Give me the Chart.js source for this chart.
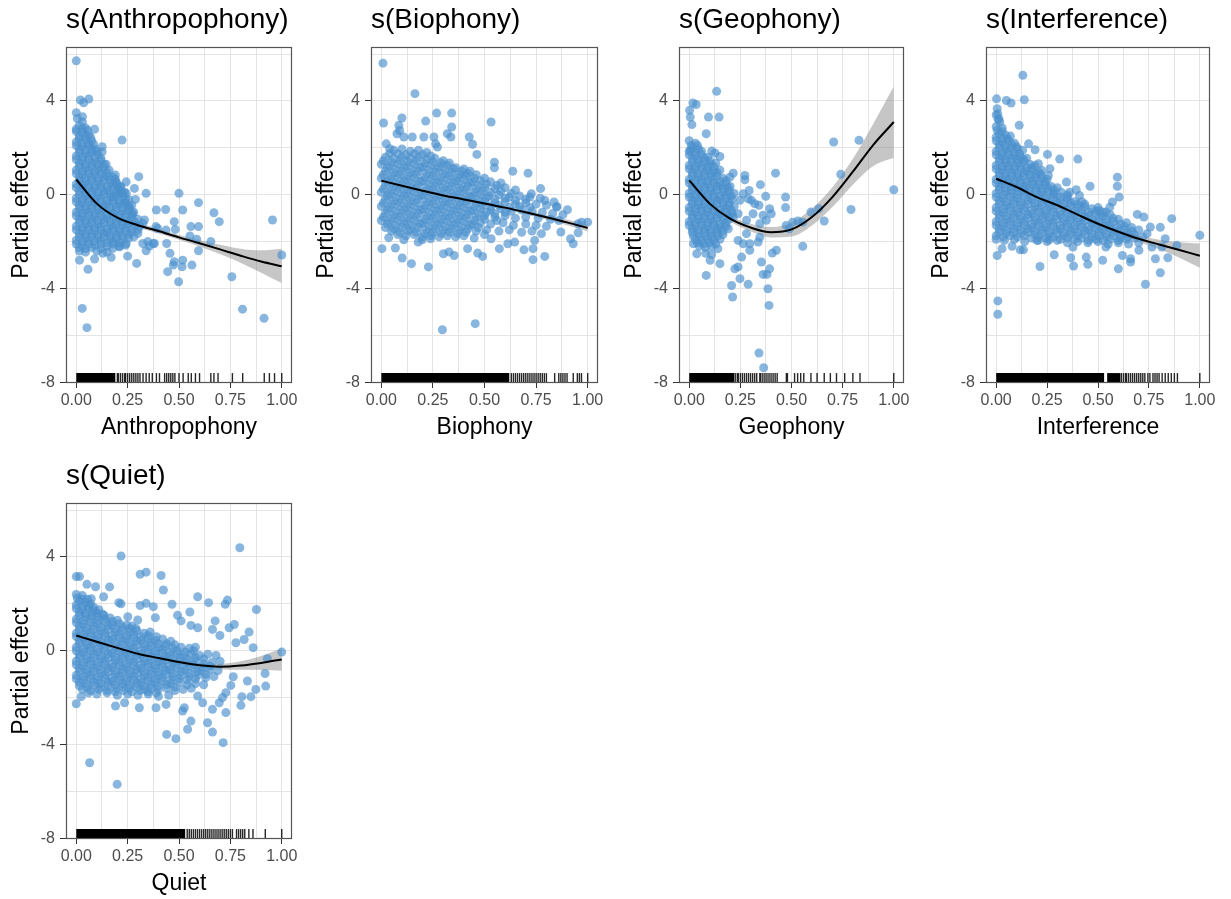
<!DOCTYPE html>
<html>
<head>
<meta charset="utf-8">
<script src="https://cdn.jsdelivr.net/npm/chart.js@4.4.1/dist/chart.umd.min.js"></script>
<style>
  body { margin: 0; background: #fff; overflow: hidden; width: 1231px; height: 899px; position: relative; }
  canvas { position: absolute; }
</style>
</head>
<body>
<canvas id="cAnthro" width="300" height="450" style="left:0px;top:0px"></canvas>
<canvas id="cBio" width="301" height="450" style="left:305px;top:0px"></canvas>
<canvas id="cGeo" width="299" height="450" style="left:613px;top:0px"></canvas>
<canvas id="cInterf" width="298" height="450" style="left:920px;top:0px"></canvas>
<canvas id="cQuiet" width="300" height="450" style="left:0px;top:456px"></canvas>
<script>
// ==================== DATOS ====================
// x positions where the smooth + band were read
const xFit = [0, 0.1, 0.2, 0.3, 0.4, 0.5, 0.6, 0.7, 0.8, 0.9, 1.0];

// --- Anthropophony ---
const anthroFit = [0.65, -0.38, -0.98, -1.3, -1.55, -1.82, -2.07, -2.33, -2.6, -2.85, -3.05];
const anthroHi  = [0.8, -0.28, -0.88, -1.2, -1.45, -1.72, -1.93, -2.13, -2.3, -2.37, -2.3];
const anthroLo  = [0.5, -0.48, -1.08, -1.4, -1.65, -1.92, -2.21, -2.53, -2.9, -3.33, -3.77];
const anthroPts = [
  [0.005,3.25],[0.03,3.1],[0.015,2.95],[0.045,2.85],[0,2.7],[0.03,2.65],[0.06,2.55],
  [0.015,2.4],[0.045,2.35],[0.075,2.3],[0,2.1],[0.03,2.05],[0.06,2.1],[0.09,1.95],
  [0.015,1.8],[0.045,1.75],[0.075,1.8],[0.105,1.7],
  [0,1.5],[0.03,1.45],[0.06,1.5],[0.09,1.4],[0.12,1.45],[0.145,1.3],
  [0.015,1.2],[0.045,1.15],[0.075,1.2],[0.105,1.1],[0.135,1.15],[0.16,1.05],
  [0,0.9],[0.03,0.85],[0.06,0.9],[0.09,0.85],[0.12,0.9],[0.15,0.8],[0.18,0.75],
  [0.015,0.6],[0.045,0.55],[0.075,0.6],[0.105,0.55],[0.135,0.6],[0.165,0.5],[0.195,0.55],[0.215,0.35],
  [0,0.3],[0.03,0.25],[0.06,0.3],[0.09,0.25],[0.12,0.3],[0.15,0.2],[0.18,0.25],[0.21,0.2],[0.235,0.1],
  [0.015,0],[0.045,-0.05],[0.075,0],[0.105,-0.05],[0.135,0],[0.165,-0.1],[0.195,-0.05],[0.225,-0.1],[0.255,-0.2],
  [0,-0.3],[0.03,-0.35],[0.06,-0.3],[0.09,-0.35],[0.12,-0.3],[0.15,-0.4],[0.18,-0.35],[0.21,-0.4],[0.24,-0.35],[0.27,-0.45],
  [0.015,-0.6],[0.045,-0.65],[0.075,-0.6],[0.105,-0.65],[0.135,-0.6],[0.165,-0.7],[0.195,-0.65],[0.225,-0.7],[0.255,-0.65],[0.28,-0.75],
  [0,-0.9],[0.03,-0.95],[0.06,-0.9],[0.09,-0.95],[0.12,-0.9],[0.15,-1.0],[0.18,-0.95],[0.21,-1.0],[0.24,-0.95],[0.27,-1.0],[0.3,-1.05],
  [0.015,-1.2],[0.045,-1.25],[0.075,-1.2],[0.105,-1.25],[0.135,-1.2],[0.165,-1.3],[0.195,-1.25],[0.225,-1.3],[0.255,-1.25],[0.285,-1.3],[0.31,-1.35],
  [0,-1.5],[0.03,-1.55],[0.06,-1.5],[0.09,-1.55],[0.12,-1.5],[0.15,-1.6],[0.18,-1.55],[0.21,-1.6],[0.24,-1.55],[0.27,-1.6],[0.3,-1.5],
  [0.015,-1.8],[0.045,-1.85],[0.075,-1.8],[0.105,-1.85],[0.135,-1.8],[0.165,-1.9],[0.195,-1.85],[0.225,-1.9],[0.255,-1.85],[0.28,-1.8],
  [0,-2.1],[0.03,-2.15],[0.06,-2.1],[0.09,-2.15],[0.12,-2.1],[0.15,-2.2],[0.18,-2.1],[0.21,-2.2],[0.24,-2.15],
  [0.015,-2.4],[0.045,-2.45],[0.1,-2.4],[0.15,-2.45],
  [0,5.71],[0.02,4.04],[0.036,3.92],[0.061,4.08],[0,3.5],[0.03,3.33],[0.089,2.79],[0.223,2.33],[0.126,2.05],[0.126,1.83],
  [0.19,0.84],[0.304,0.77],[0.243,0.55],[0.283,0.27],[0.34,0.06],[0.288,-0.2],[0.5,0.06],[0.595,-0.34],[0.39,-0.65],[0.435,-0.63],
  [0.518,-0.65],[0.67,-0.77],[0.696,-1.15],[0.955,-1.08],[0.477,-1.15],[0.388,-1.36],[0.437,-1.51],[0.482,-1.48],[0.558,-1.36],[0.595,-1.36],
  [0.553,-1.76],[0.586,-1.9],[0.655,-2.0],[0.44,-2.08],[0.356,-2.19],[0.375,-2.08],[0.595,-2.39],[0.456,-2.5],[0.477,-2.86],[0.518,-2.79],
  [0.472,-3.0],[0.515,-3.07],[0.563,-3.0],[0.445,-3.28],[0.498,-3.71],[0.757,-3.5],[0.809,-4.88],[0.914,-5.27],[1.0,-2.57],[0.029,-4.85],
  [0.052,-5.67],[0.016,-2.79],[0.057,-3.18],[0.089,-2.74],[0.17,-2.67],[0.294,-2.93],[0.25,-2.62],[0.34,-2.39],[0.348,-2.0],[0.38,-2.08],
  [0.324,-2.08],[0.3,-1.65],[0.243,-2.08],[0.21,-2.22],[0.13,-2.5],[0.178,-2.29],[0.332,-1.08],[0.324,-1.22],[0.396,-1.44],[0.259,-0.51],
  [0.275,-0.8],[0.235,-0.37],[0.21,0.06],[0.243,0.06],[0.218,0.34],[0.194,0.48],[0.178,-0.09]
];
// dense core, read between the rows above
const anthroCore = [
  [0,2.8],[0.03,2.8],[0.055,2.75],[0.015,2.5],[0.045,2.5],[0.07,2.45],
  [0,2.25],[0.03,2.2],[0.06,2.2],[0.085,2.15],[0.015,1.95],[0.045,1.9],[0.075,1.95],[0.1,1.85],
  [0,1.65],[0.03,1.6],[0.06,1.65],[0.09,1.6],[0.12,1.55],[0.015,1.35],[0.045,1.3],[0.075,1.35],[0.105,1.3],[0.135,1.3],
  [0,1.05],[0.03,1.0],[0.06,1.05],[0.09,1.0],[0.12,1.05],[0.15,0.95],
  [0.015,0.75],[0.045,0.7],[0.075,0.75],[0.105,0.7],[0.135,0.75],[0.165,0.65],[0.19,0.65],
  [0,0.45],[0.03,0.4],[0.06,0.45],[0.09,0.4],[0.12,0.45],[0.15,0.35],[0.18,0.4],[0.205,0.3],
  [0.015,0.15],[0.045,0.1],[0.075,0.15],[0.105,0.1],[0.135,0.15],[0.165,0.05],[0.195,0.1],[0.225,0.05],
  [0,-0.15],[0.03,-0.2],[0.06,-0.15],[0.09,-0.2],[0.12,-0.15],[0.15,-0.25],[0.18,-0.2],[0.21,-0.25],[0.24,-0.2],
  [0.015,-0.45],[0.045,-0.5],[0.075,-0.45],[0.105,-0.5],[0.135,-0.45],[0.165,-0.55],[0.195,-0.5],[0.225,-0.55],[0.255,-0.5],
  [0,-0.75],[0.03,-0.8],[0.06,-0.75],[0.09,-0.8],[0.12,-0.75],[0.15,-0.85],[0.18,-0.8],[0.21,-0.85],[0.24,-0.8],[0.27,-0.85],
  [0.015,-1.05],[0.045,-1.1],[0.075,-1.05],[0.105,-1.1],[0.135,-1.05],[0.165,-1.15],[0.195,-1.1],[0.225,-1.15],[0.255,-1.1],[0.285,-1.15],
  [0,-1.35],[0.03,-1.4],[0.06,-1.35],[0.09,-1.4],[0.12,-1.35],[0.15,-1.45],[0.18,-1.4],[0.21,-1.45],[0.24,-1.4],[0.27,-1.45],
  [0.015,-1.65],[0.045,-1.7],[0.075,-1.65],[0.105,-1.7],[0.135,-1.65],[0.165,-1.75],[0.195,-1.7],[0.225,-1.75],[0.255,-1.7],
  [0,-1.95],[0.03,-2.0],[0.06,-1.95],[0.09,-2.0],[0.12,-1.95],[0.15,-2.05],[0.18,-2.0],[0.21,-2.05],
  [0.015,-2.25],[0.045,-2.3],[0.075,-2.25],[0.12,-2.3]
];
const anthroRugBands = [[0, 0.19]];
const anthroRug = [0.2,0.205,0.215,0.225,0.235,0.24,0.25,0.26,0.27,0.28,0.29,0.3,0.31,0.325,0.34,0.355,0.37,0.39,0.405,
  0.43,0.44,0.45,0.46,0.47,0.48,0.5,0.52,0.545,0.56,0.58,0.6,0.655,0.67,0.69,0.76,0.81,0.915,0.94,0.965,1.0];

// --- Biophony ---
const bioFit = [0.6, 0.38, 0.17, -0.03, -0.2, -0.37, -0.55, -0.75, -0.96, -1.18, -1.42];
const bioHi  = [0.7, 0.45, 0.23, 0.03, -0.14, -0.31, -0.48, -0.67, -0.86, -1.06, -1.27];
const bioLo  = [0.5, 0.31, 0.11, -0.09, -0.26, -0.43, -0.62, -0.83, -1.06, -1.3, -1.57];
const bioPts = [
  [0.06,1.9],[0.1,1.95],[0.14,1.85],[0.18,1.9],[0.22,1.8],
  [0.02,1.6],[0.06,1.55],[0.1,1.6],[0.14,1.55],[0.18,1.6],[0.22,1.5],[0.26,1.55],[0.3,1.45],
  [0,1.3],[0.04,1.25],[0.08,1.3],[0.12,1.25],[0.16,1.3],[0.2,1.2],[0.24,1.25],[0.28,1.2],[0.32,1.25],[0.36,1.15],[0.4,1.1],
  [0.02,1.0],[0.06,0.95],[0.1,1.0],[0.14,0.95],[0.18,1.0],[0.22,0.9],[0.26,0.95],[0.3,0.9],[0.34,0.95],[0.38,0.85],[0.42,0.9],[0.46,0.85],
  [0,0.7],[0.04,0.65],[0.08,0.7],[0.12,0.65],[0.16,0.7],[0.2,0.6],[0.24,0.65],[0.28,0.6],[0.32,0.65],[0.36,0.6],[0.4,0.65],[0.44,0.55],[0.48,0.6],[0.53,0.55],[0.58,0.5],
  [0.02,0.4],[0.06,0.35],[0.1,0.4],[0.14,0.35],[0.18,0.4],[0.22,0.3],[0.26,0.35],[0.3,0.3],[0.34,0.35],[0.38,0.3],[0.42,0.35],[0.46,0.25],[0.5,0.3],[0.55,0.25],[0.6,0.3],[0.65,0.2],
  [0,0.1],[0.04,0.05],[0.08,0.1],[0.12,0.05],[0.16,0.1],[0.2,0],[0.24,0.05],[0.28,0],[0.32,0.05],[0.36,0],[0.4,0.05],[0.44,-0.05],[0.48,0],[0.52,-0.05],[0.57,0],[0.62,-0.1],[0.67,-0.05],[0.72,-0.1],[0.77,-0.15],
  [0.02,-0.2],[0.06,-0.25],[0.1,-0.2],[0.14,-0.25],[0.18,-0.2],[0.22,-0.3],[0.26,-0.25],[0.3,-0.3],[0.34,-0.25],[0.38,-0.3],[0.42,-0.25],[0.46,-0.35],[0.5,-0.3],[0.55,-0.35],[0.6,-0.3],[0.65,-0.4],[0.7,-0.35],[0.75,-0.4],[0.8,-0.45],[0.85,-0.5],
  [0,-0.5],[0.04,-0.55],[0.08,-0.5],[0.12,-0.55],[0.16,-0.5],[0.2,-0.6],[0.24,-0.55],[0.28,-0.6],[0.32,-0.55],[0.36,-0.6],[0.4,-0.55],[0.44,-0.65],[0.48,-0.6],[0.53,-0.65],[0.58,-0.6],[0.63,-0.7],[0.68,-0.65],[0.73,-0.7],[0.78,-0.75],[0.83,-0.8],[0.88,-0.85],
  [0.02,-0.8],[0.06,-0.85],[0.1,-0.8],[0.14,-0.85],[0.18,-0.8],[0.22,-0.9],[0.26,-0.85],[0.3,-0.9],[0.34,-0.85],[0.38,-0.9],[0.42,-0.85],[0.46,-0.95],[0.5,-0.9],[0.55,-0.95],[0.6,-0.9],[0.65,-1.0],[0.7,-0.95],[0.76,-1.0],[0.82,-1.05],[0.86,-1.1],
  [0,-1.1],[0.04,-1.15],[0.08,-1.1],[0.12,-1.15],[0.16,-1.1],[0.2,-1.2],[0.24,-1.15],[0.28,-1.2],[0.32,-1.15],[0.36,-1.2],[0.4,-1.15],[0.44,-1.25],[0.48,-1.2],[0.53,-1.25],[0.59,-1.2],[0.64,-1.3],[0.7,-1.25],[0.75,-1.3],[0.8,-1.35],
  [0.02,-1.4],[0.06,-1.45],[0.1,-1.4],[0.14,-1.45],[0.18,-1.4],[0.22,-1.5],[0.26,-1.45],[0.3,-1.5],[0.34,-1.45],[0.38,-1.5],[0.42,-1.45],[0.46,-1.55],[0.51,-1.5],[0.57,-1.55],[0.62,-1.5],[0.68,-1.6],[0.73,-1.55],
  [0.08,-1.7],[0.12,-1.75],[0.16,-1.7],[0.2,-1.8],[0.24,-1.75],[0.28,-1.8],[0.32,-1.75],[0.36,-1.8],[0.4,-1.75],[0.45,-1.85],[0.5,-1.7],
  [0.008,5.61],[0.163,4.31],[0.011,3.06],[0.1,3.27],[0.268,3.48],[0.341,3.48],[0.341,2.89],[0.215,3.14],[0.532,3.1],
  [0.085,2.96],[0.089,2.74],[0.076,2.6],[0.109,2.46],[0.15,2.46],[0.206,2.46],[0.255,2.46],[0.32,2.6],[0.337,2.46],
  [0.426,2.46],[0.442,2.15],[0.463,1.72],[0.272,2.03],[0.263,2.17],[0.024,2.17],[0.041,1.96],[0.548,1.39],[0.548,1.15],
  [0.637,1.0],[0.711,0.92],[0.772,0.26],[0.727,0.04],[0.792,-0.24],[0.837,-0.31],[0.902,-0.64],[0.85,-0.53],
  [0.971,-1.17],[1.0,-1.17],[0.954,-1.24],[0.87,-1.59],[0.917,-1.88],[0.954,-1.62],[0.93,-2.09],
  [0.776,-1.66],[0.743,-1.95],[0.735,-2.3],[0.792,-2.63],[0.735,-2.77],[0.691,-2.35],[0.646,-2.02],[0.572,-2.3],[0.613,-2.09],[0.532,-1.88],
  [0.491,-2.63],[0.467,-2.49],[0.418,-2.3],[0.353,-2.59],[0.328,-2.44],[0.301,-2.52],[0.296,-5.76],[0.455,-5.5],
  [0.003,-2.3],[0.068,-2.27],[0.101,-2.7],[0.146,-2.94],[0.228,-3.08],[0.179,-2.02],[0.109,-1.92],[0.036,-1.83],[0.239,-1.88],[0.198,-1.92]
];
const bioCore = [
  [0.04,1.75],[0.08,1.75],[0.12,1.7],[0.16,1.75],[0.2,1.7],[0.24,1.65],
  [0.01,1.45],[0.05,1.4],[0.09,1.45],[0.13,1.4],[0.17,1.45],[0.21,1.35],[0.25,1.4],[0.29,1.35],[0.33,1.35],
  [0.03,1.15],[0.07,1.1],[0.11,1.15],[0.15,1.1],[0.19,1.15],[0.23,1.05],[0.27,1.1],[0.31,1.05],[0.35,1.1],[0.39,1.0],[0.43,1.0],
  [0.01,0.85],[0.05,0.8],[0.09,0.85],[0.13,0.8],[0.17,0.85],[0.21,0.75],[0.25,0.8],[0.29,0.75],[0.33,0.8],[0.37,0.75],[0.41,0.8],[0.45,0.7],[0.5,0.7],
  [0.03,0.55],[0.07,0.5],[0.11,0.55],[0.15,0.5],[0.19,0.55],[0.23,0.45],[0.27,0.5],[0.31,0.45],[0.35,0.5],[0.39,0.45],[0.43,0.5],[0.47,0.4],[0.51,0.45],[0.56,0.4],
  [0.01,0.25],[0.05,0.2],[0.09,0.25],[0.13,0.2],[0.17,0.25],[0.21,0.15],[0.25,0.2],[0.29,0.15],[0.33,0.2],[0.37,0.15],[0.41,0.2],[0.45,0.1],[0.49,0.15],[0.53,0.1],[0.58,0.15],[0.63,0.05],
  [0.03,-0.05],[0.07,-0.1],[0.11,-0.05],[0.15,-0.1],[0.19,-0.05],[0.23,-0.15],[0.27,-0.1],[0.31,-0.15],[0.35,-0.1],[0.39,-0.15],[0.43,-0.1],[0.47,-0.2],[0.51,-0.15],[0.55,-0.2],[0.6,-0.15],[0.65,-0.25],[0.7,-0.2],
  [0.01,-0.35],[0.05,-0.4],[0.09,-0.35],[0.13,-0.4],[0.17,-0.35],[0.21,-0.45],[0.25,-0.4],[0.29,-0.45],[0.33,-0.4],[0.37,-0.45],[0.41,-0.4],[0.45,-0.5],[0.49,-0.45],[0.53,-0.5],[0.57,-0.45],[0.62,-0.55],[0.67,-0.5],[0.72,-0.55],
  [0.03,-0.65],[0.07,-0.7],[0.11,-0.65],[0.15,-0.7],[0.19,-0.65],[0.23,-0.75],[0.27,-0.7],[0.31,-0.75],[0.35,-0.7],[0.39,-0.75],[0.43,-0.7],[0.47,-0.8],[0.51,-0.75],[0.55,-0.8],[0.6,-0.75],
  [0.01,-0.95],[0.05,-1.0],[0.09,-0.95],[0.13,-1.0],[0.17,-0.95],[0.21,-1.05],[0.25,-1.0],[0.29,-1.05],[0.33,-1.0],[0.37,-1.05],[0.41,-1.0],[0.45,-1.1],[0.5,-1.05],[0.56,-1.1],
  [0.03,-1.25],[0.07,-1.3],[0.11,-1.25],[0.15,-1.3],[0.19,-1.25],[0.23,-1.35],[0.27,-1.3],[0.31,-1.35],[0.35,-1.3],[0.39,-1.35],[0.43,-1.3],[0.47,-1.4],
  [0.05,-1.55],[0.09,-1.6],[0.13,-1.55],[0.17,-1.6],[0.21,-1.65],[0.25,-1.6],[0.29,-1.65],[0.33,-1.6],[0.37,-1.65],[0.41,-1.6]
];
const bioRugBands = [[0, 0.62]];
const bioRug = [0.63,0.64,0.65,0.66,0.67,0.68,0.69,0.7,0.71,0.72,0.73,0.74,0.75,0.76,0.77,0.78,0.79,0.8,
  0.84,0.86,0.87,0.88,0.89,0.9,0.93,0.95,0.96,0.97,1.0];

// --- Geophony ---
const geoFit = [0.61, -0.38, -1.02, -1.4, -1.6, -1.48, -0.95, -0.1, 0.98, 2.13, 3.1];
const geoHi  = [0.76, -0.28, -0.9, -1.24, -1.38, -1.18, -0.59, 0.32, 1.53, 3.03, 4.62];
const geoLo  = [0.46, -0.48, -1.14, -1.56, -1.82, -1.78, -1.31, -0.52, 0.43, 1.23, 1.58];
const geoPts = [
  [0,2.3],[0.03,2.2],[0.015,2.0],[0.045,1.95],[0.005,1.9],
  [0,1.7],[0.03,1.65],[0.06,1.7],[0.09,1.6],
  [0.015,1.4],[0.045,1.35],[0.075,1.4],[0.105,1.3],[0.13,1.35],
  [0,1.1],[0.03,1.05],[0.06,1.1],[0.09,1.05],[0.12,1.0],[0.15,1.05],
  [0.015,0.8],[0.045,0.75],[0.075,0.8],[0.105,0.75],[0.135,0.8],[0.165,0.7],
  [0,0.5],[0.03,0.45],[0.06,0.5],[0.09,0.45],[0.12,0.5],[0.15,0.4],[0.18,0.45],[0.2,0.35],
  [0.015,0.2],[0.045,0.15],[0.075,0.2],[0.105,0.15],[0.135,0.2],[0.165,0.1],[0.195,0.15],[0.22,0.05],
  [0,-0.1],[0.03,-0.15],[0.06,-0.1],[0.09,-0.15],[0.12,-0.1],[0.15,-0.2],[0.18,-0.15],[0.21,-0.2],
  [0.015,-0.4],[0.045,-0.45],[0.075,-0.4],[0.105,-0.45],[0.135,-0.4],[0.165,-0.5],[0.195,-0.45],[0.22,-0.5],
  [0,-0.7],[0.03,-0.75],[0.06,-0.7],[0.09,-0.75],[0.12,-0.7],[0.15,-0.8],[0.18,-0.75],[0.21,-0.8],
  [0.015,-1.0],[0.045,-1.05],[0.075,-1.0],[0.105,-1.05],[0.135,-1.0],[0.165,-1.1],[0.195,-1.05],
  [0,-1.3],[0.03,-1.35],[0.06,-1.3],[0.09,-1.35],[0.12,-1.3],[0.15,-1.4],[0.18,-1.35],
  [0.015,-1.6],[0.045,-1.65],[0.075,-1.6],[0.105,-1.65],[0.135,-1.6],[0.165,-1.7],
  [0.03,-1.9],[0.06,-1.95],[0.09,-1.9],[0.12,-1.95],[0.15,-1.9],
  [0.05,-2.2],[0.08,-2.25],[0.11,-2.2],[0.14,-2.3],[0.08,-2.5],[0.11,-2.55],
  [0.134,4.41],[0.018,3.91],[0.034,3.85],[0.002,3.6],[0.005,3.31],[0.013,2.99],[0.094,3.31],[0.146,3.31],[0.083,2.6],
  [0.11,1.86],[0.126,1.78],[0.15,1.63],[0.422,0.92],[0.348,0.43],[0.272,0.82],[0.272,0.64],[0.293,0.18],[0.215,0.92],[0.199,0.75],
  [0.374,-0.07],[0.341,-0.45],[0.304,-0.24],[0.393,-0.6],[0.401,-0.81],[0.361,-0.88],[0.377,-1.09],[0.345,-1.24],
  [0.471,-0.1],[0.471,-0.55],[0.706,2.25],[0.83,2.32],[0.741,0.87],[1.0,0.21],[0.791,-0.63],[0.66,-1.12],
  [0.595,-0.74],[0.633,-0.6],[0.555,-1.17],[0.531,-1.12],[0.506,-1.17],[0.474,-1.31],[0.555,-2.2],[0.49,-1.45],
  [0.426,-2.37],[0.406,-2.49],[0.353,-2.87],[0.393,-3.16],[0.38,-3.4],[0.361,-3.4],[0.385,-4.01],[0.39,-4.72],[0.341,-6.75],[0.364,-7.38],
  [0.207,-3.87],[0.212,-4.36],[0.248,-3.58],[0.288,-3.82],[0.239,-3.08],[0.223,-3.16],[0.083,-3.44],
  [0.296,-2.09],[0.264,-2.09],[0.239,-1.95],[0.296,-2.37],[0.256,-2.66],[0.337,-2.02],[0.345,-1.81],
  [0.15,-2.94],[0.102,-2.8],[0.037,-2.52],[0.021,-2.09],
  [0.191,-1.45],[0.215,-0.95],[0.239,-0.81],[0.28,-1.09],[0.312,-0.81],[0.28,-1.66],
  [0.248,-0.24],[0.288,-0.17],[0.32,-0.38],[0.264,0.04]
];
const geoCore = [
  [0.01,2.1],[0.04,2.1],[0,1.85],[0.03,1.8],[0.06,1.85],
  [0.015,1.55],[0.045,1.5],[0.075,1.55],[0.1,1.45],
  [0,1.25],[0.03,1.2],[0.06,1.25],[0.09,1.2],[0.12,1.2],
  [0.015,0.95],[0.045,0.9],[0.075,0.95],[0.105,0.9],[0.135,0.95],
  [0,0.65],[0.03,0.6],[0.06,0.65],[0.09,0.6],[0.12,0.65],[0.15,0.55],[0.18,0.6],
  [0.015,0.35],[0.045,0.3],[0.075,0.35],[0.105,0.3],[0.135,0.35],[0.165,0.25],[0.19,0.3],
  [0,0.05],[0.03,0],[0.06,0.05],[0.09,0],[0.12,0.05],[0.15,-0.05],[0.18,0],[0.205,-0.05],
  [0.015,-0.25],[0.045,-0.3],[0.075,-0.25],[0.105,-0.3],[0.135,-0.25],[0.165,-0.35],[0.195,-0.3],
  [0,-0.55],[0.03,-0.6],[0.06,-0.55],[0.09,-0.6],[0.12,-0.55],[0.15,-0.65],[0.18,-0.6],[0.205,-0.65],
  [0.015,-0.85],[0.045,-0.9],[0.075,-0.85],[0.105,-0.9],[0.135,-0.85],[0.165,-0.95],[0.195,-0.9],
  [0,-1.15],[0.03,-1.2],[0.06,-1.15],[0.09,-1.2],[0.12,-1.15],[0.15,-1.25],[0.18,-1.2],
  [0.015,-1.45],[0.045,-1.5],[0.075,-1.45],[0.105,-1.5],[0.135,-1.45],[0.165,-1.55],
  [0.02,-1.75],[0.05,-1.8],[0.08,-1.75],[0.11,-1.8],[0.14,-1.75],
  [0.04,-2.05],[0.07,-2.1],[0.1,-2.05],[0.13,-2.1]
];
const geoRugBands = [[0, 0.22]];
const geoRug = [0.225,0.235,0.24,0.25,0.26,0.27,0.28,0.29,0.3,0.31,0.32,0.33,0.345,0.35,0.36,0.37,0.38,0.39,0.4,0.41,0.42,0.43,
  0.475,0.48,0.515,0.53,0.545,0.56,0.595,0.625,0.66,0.69,0.72,0.76,0.8,0.835,1.0];

// --- Interference ---
const interfFit = [0.68, 0.33, -0.1, -0.45, -0.85, -1.24, -1.58, -1.88, -2.12, -2.36, -2.6];
const interfHi  = [0.8, 0.41, -0.03, -0.38, -0.78, -1.16, -1.48, -1.74, -1.92, -2.03, -2.08];
const interfLo  = [0.56, 0.25, -0.17, -0.52, -0.92, -1.32, -1.68, -2.02, -2.32, -2.69, -3.12];
const interfPts = [
  [0,3.4],[0.01,3.2],[0,2.9],[0.03,2.85],[0.015,2.6],[0.045,2.55],[0.07,2.5],
  [0,2.3],[0.03,2.25],[0.06,2.3],[0.09,2.2],
  [0.015,2.0],[0.045,1.95],[0.075,2.0],[0.105,1.95],[0.13,1.9],
  [0,1.7],[0.03,1.65],[0.06,1.7],[0.09,1.65],[0.12,1.6],[0.15,1.55],
  [0.015,1.4],[0.045,1.35],[0.075,1.4],[0.105,1.35],[0.135,1.4],[0.165,1.3],[0.19,1.25],
  [0,1.1],[0.03,1.05],[0.06,1.1],[0.09,1.05],[0.12,1.1],[0.15,1.0],[0.18,1.05],[0.21,0.95],
  [0.015,0.8],[0.045,0.75],[0.075,0.8],[0.105,0.75],[0.135,0.8],[0.165,0.7],[0.195,0.75],[0.225,0.7],[0.25,0.65],
  [0,0.5],[0.03,0.45],[0.06,0.5],[0.09,0.45],[0.12,0.5],[0.15,0.4],[0.18,0.45],[0.21,0.4],[0.24,0.45],[0.27,0.35],[0.3,0.3],
  [0.015,0.2],[0.045,0.15],[0.075,0.2],[0.105,0.15],[0.135,0.2],[0.165,0.1],[0.195,0.15],[0.225,0.1],[0.255,0.15],[0.285,0.05],[0.32,0.1],[0.35,0],
  [0,-0.1],[0.035,-0.15],[0.07,-0.1],[0.105,-0.15],[0.14,-0.1],[0.175,-0.2],[0.21,-0.15],[0.245,-0.2],[0.28,-0.15],[0.315,-0.25],[0.35,-0.2],[0.385,-0.3],[0.42,-0.3],
  [0.015,-0.4],[0.05,-0.45],[0.085,-0.4],[0.12,-0.45],[0.155,-0.4],[0.19,-0.5],[0.225,-0.45],[0.26,-0.5],[0.295,-0.45],[0.33,-0.55],[0.365,-0.5],[0.4,-0.55],[0.435,-0.5],[0.47,-0.6],[0.5,-0.55],
  [0,-0.7],[0.035,-0.75],[0.07,-0.7],[0.105,-0.75],[0.14,-0.7],[0.175,-0.8],[0.21,-0.75],[0.245,-0.8],[0.28,-0.75],[0.315,-0.85],[0.35,-0.8],[0.385,-0.85],[0.42,-0.8],[0.455,-0.9],[0.49,-0.85],[0.525,-0.9],[0.56,-0.85],
  [0.015,-1.0],[0.05,-1.05],[0.085,-1.0],[0.12,-1.05],[0.155,-1.0],[0.19,-1.1],[0.225,-1.05],[0.26,-1.1],[0.295,-1.05],[0.33,-1.15],[0.365,-1.1],[0.4,-1.15],[0.435,-1.1],[0.47,-1.2],[0.505,-1.15],[0.54,-1.2],[0.575,-1.15],[0.61,-1.25],[0.64,-1.2],
  [0,-1.3],[0.035,-1.35],[0.07,-1.3],[0.105,-1.35],[0.14,-1.3],[0.175,-1.4],[0.21,-1.35],[0.245,-1.4],[0.28,-1.35],[0.315,-1.45],[0.35,-1.4],[0.385,-1.45],[0.42,-1.4],[0.455,-1.5],[0.49,-1.45],[0.525,-1.5],[0.56,-1.45],[0.595,-1.55],[0.63,-1.5],[0.665,-1.55],[0.7,-1.5],
  [0.015,-1.6],[0.05,-1.65],[0.085,-1.6],[0.12,-1.65],[0.155,-1.6],[0.19,-1.7],[0.225,-1.65],[0.26,-1.7],[0.295,-1.65],[0.33,-1.75],[0.365,-1.7],[0.4,-1.75],[0.435,-1.7],[0.47,-1.8],[0.505,-1.75],[0.54,-1.8],[0.575,-1.75],[0.61,-1.85],[0.645,-1.8],[0.68,-1.85],[0.72,-1.8],
  [0,-1.9],[0.04,-1.95],[0.09,-1.9],[0.14,-2.0],[0.2,-1.95],[0.25,-2.0],[0.3,-1.95],[0.35,-2.05],[0.4,-2.0],[0.45,-2.05],[0.5,-2.0],[0.55,-2.1],[0.6,-2.05],[0.65,-2.1],[0.7,-2.05],
  [0.131,5.09],[0.002,4.09],[0.05,4.02],[0.073,3.91],[0.138,4.05],[0.005,3.67],[0.008,3.45],[0.013,3.24],[0.018,3.1],[0.113,2.96],
  [0.159,2.17],[0.191,1.92],[0.252,1.72],[0.312,1.52],[0.401,1.52],
  [0.207,1.32],[0.223,1.04],[0.264,1.11],[0.256,0.82],[0.345,0.54],[0.393,0.21],[0.361,0.11],[0.461,0.36],[0.409,-0.03],
  [0.595,0.75],[0.595,0.36],[0.604,-0.1],[0.571,-0.31],[0.558,-0.53],[0.539,-0.74],[0.506,-0.67],
  [0.693,-0.84],[0.725,-0.95],[0.757,-1.38],[0.806,-1.39],[0.862,-1.02],
  [1.0,-1.73],[0.887,-2.16],[0.843,-2.69],[0.806,-3.33],[0.733,-3.82],[0.782,-2.73],[0.741,-1.66],[0.83,-1.88],[0.814,-2.23],
  [0.66,-2.73],[0.66,-2.87],[0.6,-3.16],[0.523,-2.8],[0.45,-2.97],[0.38,-3.04],[0.366,-2.69],[0.285,-2.56],[0.215,-3.06],[0.134,-2.35],
  [0.005,-2.59],[0.008,-4.53],[0.008,-5.1],
  [0.029,-2.3],[0.078,-2.2],[0.118,-2.35],[0.207,-1.95],[0.26,-1.92],[0.377,-2.23],[0.442,-2.66],[0.539,-2.23],[0.62,-2.59],[0.701,-2.37],[0.765,-2.23]
];
const interfCore = [
  [0.005,2.75],[0.03,2.7],[0,2.45],[0.03,2.4],[0.055,2.4],
  [0.015,2.15],[0.045,2.1],[0.075,2.15],[0.1,2.05],
  [0,1.85],[0.03,1.8],[0.06,1.85],[0.09,1.8],[0.115,1.75],
  [0.015,1.55],[0.045,1.5],[0.075,1.55],[0.105,1.5],[0.135,1.5],
  [0,1.25],[0.03,1.2],[0.06,1.25],[0.09,1.2],[0.12,1.25],[0.15,1.15],[0.175,1.15],
  [0.015,0.95],[0.045,0.9],[0.075,0.95],[0.105,0.9],[0.135,0.95],[0.165,0.85],[0.195,0.9],[0.22,0.85],
  [0,0.65],[0.03,0.6],[0.06,0.65],[0.09,0.6],[0.12,0.65],[0.15,0.55],[0.18,0.6],[0.21,0.55],[0.24,0.55],
  [0.015,0.35],[0.045,0.3],[0.075,0.35],[0.105,0.3],[0.135,0.35],[0.165,0.25],[0.195,0.3],[0.225,0.25],[0.255,0.3],[0.285,0.2],
  [0,0.05],[0.035,0],[0.07,0.05],[0.105,0],[0.14,0.05],[0.175,-0.05],[0.21,0],[0.245,-0.05],[0.28,0],[0.315,-0.1],[0.35,-0.1],
  [0.015,-0.25],[0.05,-0.3],[0.085,-0.25],[0.12,-0.3],[0.155,-0.25],[0.19,-0.35],[0.225,-0.3],[0.26,-0.35],[0.295,-0.3],[0.33,-0.4],[0.365,-0.35],[0.4,-0.4],[0.435,-0.4],
  [0,-0.55],[0.035,-0.6],[0.07,-0.55],[0.105,-0.6],[0.14,-0.55],[0.175,-0.65],[0.21,-0.6],[0.245,-0.65],[0.28,-0.6],[0.315,-0.7],[0.35,-0.65],[0.385,-0.7],[0.42,-0.65],[0.455,-0.75],[0.49,-0.7],[0.525,-0.75],
  [0.015,-0.85],[0.05,-0.9],[0.085,-0.85],[0.12,-0.9],[0.155,-0.85],[0.19,-0.95],[0.225,-0.9],[0.26,-0.95],[0.295,-0.9],[0.33,-1.0],[0.365,-0.95],[0.4,-1.0],[0.435,-0.95],[0.47,-1.05],[0.505,-1.0],[0.54,-1.05],[0.575,-1.0],[0.6,-1.05],
  [0,-1.15],[0.035,-1.2],[0.07,-1.15],[0.105,-1.2],[0.14,-1.15],[0.175,-1.25],[0.21,-1.2],[0.245,-1.25],[0.28,-1.2],[0.315,-1.3],[0.35,-1.25],[0.385,-1.3],[0.42,-1.25],[0.455,-1.35],[0.49,-1.3],[0.525,-1.35],[0.56,-1.3],[0.595,-1.4],[0.63,-1.35],[0.665,-1.4],
  [0.015,-1.45],[0.05,-1.5],[0.085,-1.45],[0.12,-1.5],[0.155,-1.45],[0.19,-1.55],[0.225,-1.5],[0.26,-1.55],[0.295,-1.5],[0.33,-1.6],[0.365,-1.55],[0.4,-1.6],[0.435,-1.55],[0.47,-1.65],[0.505,-1.6],[0.54,-1.65],[0.575,-1.6],[0.61,-1.7],[0.645,-1.65],[0.68,-1.7],
  [0,-1.75],[0.035,-1.8],[0.07,-1.75],[0.105,-1.8],[0.14,-1.75],[0.175,-1.85],[0.21,-1.8],[0.245,-1.85],[0.28,-1.8],[0.315,-1.9],[0.35,-1.85],[0.385,-1.9],[0.42,-1.85],[0.455,-1.95],[0.49,-1.9],[0.525,-1.95],[0.56,-1.9],[0.6,-1.95],[0.64,-1.9]
];
const interfRugBands = [[0, 0.53], [0.545, 0.61]];
const interfRug = [0.615,0.625,0.635,0.64,0.65,0.66,0.67,0.68,0.69,0.7,0.71,0.72,0.73,0.745,0.755,0.77,0.78,0.79,0.8,
  0.815,0.83,0.845,0.86,0.875,0.89,1.0];

// --- Quiet ---
const quietFit = [0.65, 0.38, 0.12, -0.13, -0.31, -0.48, -0.62, -0.68, -0.63, -0.52, -0.37];
const quietHi  = [0.77, 0.46, 0.19, -0.06, -0.24, -0.4, -0.53, -0.56, -0.45, -0.22, 0.11];
const quietLo  = [0.53, 0.3, 0.05, -0.2, -0.38, -0.56, -0.71, -0.8, -0.81, -0.82, -0.85];
const quietPts = [
  [0,2.4],[0.03,2.35],[0.015,2.1],[0.045,2.05],[0.07,2.0],
  [0,1.8],[0.03,1.75],[0.06,1.8],[0.09,1.7],[0.11,1.75],
  [0.015,1.5],[0.045,1.45],[0.075,1.5],[0.105,1.45],[0.135,1.5],[0.165,1.4],
  [0,1.2],[0.035,1.15],[0.07,1.2],[0.105,1.15],[0.14,1.2],[0.175,1.1],[0.21,1.15],[0.245,1.1],[0.27,1.05],
  [0.015,0.9],[0.05,0.85],[0.085,0.9],[0.12,0.85],[0.155,0.9],[0.19,0.8],[0.225,0.85],[0.26,0.8],[0.295,0.85],[0.33,0.75],[0.36,0.8],
  [0,0.6],[0.035,0.55],[0.07,0.6],[0.105,0.55],[0.14,0.6],[0.175,0.5],[0.21,0.55],[0.245,0.5],[0.28,0.55],[0.315,0.45],[0.35,0.5],[0.385,0.45],[0.42,0.5],[0.46,0.4],
  [0.015,0.3],[0.05,0.25],[0.085,0.3],[0.12,0.25],[0.155,0.3],[0.19,0.2],[0.225,0.25],[0.26,0.2],[0.295,0.25],[0.33,0.15],[0.365,0.2],[0.4,0.15],[0.435,0.2],[0.47,0.1],[0.51,0.15],[0.55,0.1],[0.58,0.15],
  [0,0],[0.035,-0.05],[0.07,0],[0.105,-0.05],[0.14,0],[0.175,-0.1],[0.21,-0.05],[0.245,-0.1],[0.28,-0.05],[0.315,-0.15],[0.35,-0.1],[0.385,-0.15],[0.42,-0.1],[0.455,-0.2],[0.49,-0.15],[0.525,-0.2],[0.56,-0.15],[0.6,-0.2],[0.64,-0.15],[0.68,-0.2],
  [0.015,-0.3],[0.05,-0.35],[0.085,-0.3],[0.12,-0.35],[0.155,-0.3],[0.19,-0.4],[0.225,-0.35],[0.26,-0.4],[0.295,-0.35],[0.33,-0.45],[0.365,-0.4],[0.4,-0.45],[0.435,-0.4],[0.47,-0.5],[0.505,-0.45],[0.54,-0.5],[0.58,-0.45],[0.62,-0.55],[0.66,-0.5],[0.7,-0.45],
  [0,-0.6],[0.035,-0.65],[0.07,-0.6],[0.105,-0.65],[0.14,-0.6],[0.175,-0.7],[0.21,-0.65],[0.245,-0.7],[0.28,-0.65],[0.315,-0.75],[0.35,-0.7],[0.385,-0.75],[0.42,-0.7],[0.455,-0.8],[0.49,-0.75],[0.53,-0.8],[0.57,-0.75],[0.61,-0.85],[0.65,-0.8],[0.69,-0.85],
  [0.015,-0.9],[0.05,-0.95],[0.085,-0.9],[0.12,-0.95],[0.155,-0.9],[0.19,-1.0],[0.225,-0.95],[0.26,-1.0],[0.295,-0.95],[0.33,-1.05],[0.365,-1.0],[0.4,-1.05],[0.435,-1.0],[0.47,-1.1],[0.51,-1.05],[0.55,-1.1],[0.59,-1.05],[0.63,-1.15],[0.67,-1.1],
  [0,-1.2],[0.035,-1.25],[0.07,-1.2],[0.105,-1.25],[0.14,-1.2],[0.175,-1.3],[0.21,-1.25],[0.245,-1.3],[0.28,-1.25],[0.315,-1.35],[0.35,-1.3],[0.385,-1.35],[0.42,-1.3],[0.46,-1.4],[0.5,-1.35],[0.54,-1.45],[0.58,-1.4],[0.62,-1.45],
  [0.015,-1.5],[0.05,-1.55],[0.085,-1.5],[0.12,-1.55],[0.155,-1.5],[0.19,-1.6],[0.225,-1.55],[0.26,-1.6],[0.295,-1.55],[0.33,-1.65],[0.365,-1.6],[0.4,-1.65],[0.44,-1.6],[0.48,-1.7],[0.52,-1.65],[0.56,-1.6],
  [0.06,-1.8],[0.1,-1.85],[0.15,-1.8],[0.2,-1.9],[0.25,-1.85],[0.3,-1.9],[0.35,-1.85],[0.4,-1.95],[0.45,-1.9],
  [0.218,4.04],[0.796,4.39],[0,3.16],[0.016,3.16],[0.311,3.26],[0.34,3.35],[0.413,3.21],[0.424,2.59],
  [0.052,2.83],[0.094,2.73],[0.162,2.72],[0.133,2.3],[0.073,2.22],[0.207,2.05],[0.218,2.0],
  [0.311,1.93],[0.34,2.02],[0.375,1.88],[0.466,1.98],[0.591,2.3],[0.644,2.05],[0.725,1.98],[0.736,2.16],[0.877,1.76],
  [0.251,1.45],[0.299,1.31],[0.385,1.41],[0.493,1.51],[0.553,1.65],[0.51,1.27],[0.558,1.08],[0.591,0.98],
  [0.676,1.27],[0.663,0.91],[0.699,0.65],[0.744,0.98],[0.769,1.12],[0.841,0.8],[0.817,0.48],[0.777,0.34],[0.861,0.13],[0.93,-0.34],[1.0,-0.06],
  [0.919,-0.97],[0.922,-1.51],[0.874,-1.65],[0.833,-1.29],[0.85,-1.96],[0.806,-1.96],[0.801,-2.33],
  [0.764,-1.11],[0.752,-1.48],[0.728,-1.79],[0.712,-2.0],[0.696,-2.22],[0.728,-2.64],[0.715,-3.92],[0.663,-3.47],[0.639,-3.07],[0.558,-3.0],[0.542,-3.35],[0.485,-3.75],[0.44,-3.57],
  [0.663,-2.5],[0.615,-2.22],[0.591,-1.93],[0.526,-2.43],[0.518,-2.57],[0.437,-2.29],[0.388,-2.43],[0.307,-2.43],[0.235,-2.22],[0.191,-2.36],[0,-2.26],[0.024,-1.96],[0.065,-4.78],[0.199,-5.7]
];
const quietCore = [
  [0.005,2.25],[0.03,2.2],[0.055,2.2],[0,1.95],[0.03,1.9],[0.06,1.95],[0.085,1.85],
  [0.015,1.65],[0.045,1.6],[0.075,1.65],[0.105,1.6],[0.13,1.55],
  [0,1.35],[0.035,1.3],[0.07,1.35],[0.105,1.3],[0.14,1.35],[0.175,1.25],[0.2,1.3],
  [0.015,1.05],[0.05,1.0],[0.085,1.05],[0.12,1.0],[0.155,1.05],[0.19,0.95],[0.225,1.0],[0.26,0.95],[0.29,0.95],
  [0,0.75],[0.035,0.7],[0.07,0.75],[0.105,0.7],[0.14,0.75],[0.175,0.65],[0.21,0.7],[0.245,0.65],[0.28,0.7],[0.315,0.6],[0.35,0.65],[0.39,0.6],
  [0.015,0.45],[0.05,0.4],[0.085,0.45],[0.12,0.4],[0.155,0.45],[0.19,0.35],[0.225,0.4],[0.26,0.35],[0.295,0.4],[0.33,0.3],[0.365,0.35],[0.4,0.3],[0.44,0.3],[0.48,0.25],
  [0,0.15],[0.035,0.1],[0.07,0.15],[0.105,0.1],[0.14,0.15],[0.175,0.05],[0.21,0.1],[0.245,0.05],[0.28,0.1],[0.315,0],[0.35,0.05],[0.385,0],[0.42,0.05],[0.455,-0.05],[0.49,0],[0.53,-0.05],[0.57,0],
  [0.015,-0.15],[0.05,-0.2],[0.085,-0.15],[0.12,-0.2],[0.155,-0.15],[0.19,-0.25],[0.225,-0.2],[0.26,-0.25],[0.295,-0.2],[0.33,-0.3],[0.365,-0.25],[0.4,-0.3],[0.435,-0.25],[0.47,-0.35],[0.505,-0.3],[0.54,-0.35],[0.58,-0.3],[0.62,-0.35],
  [0,-0.45],[0.035,-0.5],[0.07,-0.45],[0.105,-0.5],[0.14,-0.45],[0.175,-0.55],[0.21,-0.5],[0.245,-0.55],[0.28,-0.5],[0.315,-0.6],[0.35,-0.55],[0.385,-0.6],[0.42,-0.55],[0.455,-0.65],[0.49,-0.6],[0.53,-0.65],[0.57,-0.6],[0.61,-0.7],[0.65,-0.65],
  [0.015,-0.75],[0.05,-0.8],[0.085,-0.75],[0.12,-0.8],[0.155,-0.75],[0.19,-0.85],[0.225,-0.8],[0.26,-0.85],[0.295,-0.8],[0.33,-0.9],[0.365,-0.85],[0.4,-0.9],[0.435,-0.85],[0.47,-0.95],[0.51,-0.9],[0.55,-0.95],[0.59,-0.9],[0.63,-1.0],
  [0,-1.05],[0.035,-1.1],[0.07,-1.05],[0.105,-1.1],[0.14,-1.05],[0.175,-1.15],[0.21,-1.1],[0.245,-1.15],[0.28,-1.1],[0.315,-1.2],[0.35,-1.15],[0.385,-1.2],[0.42,-1.15],[0.46,-1.25],[0.5,-1.2],[0.54,-1.25],[0.58,-1.2],
  [0.015,-1.35],[0.05,-1.4],[0.085,-1.35],[0.12,-1.4],[0.155,-1.35],[0.19,-1.45],[0.225,-1.4],[0.26,-1.45],[0.295,-1.4],[0.33,-1.5],[0.365,-1.45],[0.4,-1.5],[0.44,-1.45],[0.48,-1.55],
  [0.03,-1.65],[0.07,-1.7],[0.11,-1.65],[0.15,-1.7],[0.19,-1.75],[0.23,-1.7],[0.27,-1.75],[0.31,-1.7],[0.35,-1.75],[0.39,-1.8]
];
const quietRugBands = [[0, 0.53]];
const quietRug = [0.54,0.55,0.56,0.57,0.58,0.59,0.6,0.61,0.62,0.63,0.64,0.65,0.66,0.67,0.68,0.69,0.7,0.71,0.72,0.73,
  0.74,0.75,0.76,0.78,0.79,0.8,0.81,0.82,0.84,0.86,0.92,1.0];

// ==================== ESTILO ====================
const Y_MIN = -8.03, Y_MAX = 6.3;
const RUG_Y = -7.82;
const POINT_COL = 'rgba(74,144,205,0.66)';
const BAND_COL = 'rgba(128,128,128,0.45)';
const GRID_COL = '#E4E4E4';
const TICK_COL = '#333333';
const LABEL_COL = '#4D4D4D';

Chart.defaults.font.family = '"Liberation Sans", Arial, sans-serif';
Chart.defaults.color = LABEL_COL;

const isMajorX = v => Math.abs(v * 4 - Math.round(v * 4)) < 1e-9;
const isMajorY = v => Math.abs(v % 4) < 1e-9;

// panel border like theme_bw
const panelBorder = {
  id: 'panelBorder',
  afterDatasetsDraw(chart) {
    const a = chart.chartArea, ctx = chart.ctx;
    ctx.save();
    ctx.strokeStyle = '#555555';
    ctx.lineWidth = 1.2;
    ctx.strokeRect(a.left + 0.5, a.top + 0.5, a.right - a.left - 1, a.bottom - a.top - 1);
    ctx.restore();
  }
};

// ==================== PANEL ====================
function makePanel(id, title, xTitle, pts, fit, lo, hi, rugBands, rug) {
  const xy = ys => xFit.map((x, i) => ({ x, y: ys[i] }));
  const datasets = [
    { type: 'line', data: xy(hi), fill: '+1', backgroundColor: BAND_COL, borderColor: 'rgba(0,0,0,0)',
      borderWidth: 0, pointRadius: 0, cubicInterpolationMode: 'monotone', order: 3 },
    { type: 'line', data: xy(lo), fill: false, borderColor: 'rgba(0,0,0,0)',
      borderWidth: 0, pointRadius: 0, cubicInterpolationMode: 'monotone', order: 3 },
    { type: 'scatter', data: pts.map(p => ({ x: p[0], y: p[1] })), pointRadius: 4.5,
      pointBackgroundColor: POINT_COL, pointBorderWidth: 0, order: 2 },
    { type: 'line', data: xy(fit), fill: false, borderColor: '#000', borderWidth: 2,
      pointRadius: 0, cubicInterpolationMode: 'monotone', order: 1 }
  ];
  rugBands.forEach(b => datasets.push({
    type: 'line', data: [{ x: b[0], y: RUG_Y }, { x: b[1], y: RUG_Y }], fill: false,
    borderColor: '#000', borderWidth: 10, borderCapStyle: 'butt', pointRadius: 0, order: 0
  }));
  datasets.push({
    type: 'scatter', data: rug.map(x => ({ x, y: RUG_Y })), pointStyle: 'line', pointRotation: 90,
    pointRadius: 5, pointBorderColor: 'rgba(0,0,0,0.85)', pointBorderWidth: 1.4, order: 0
  });

  new Chart(document.getElementById(id), {
    type: 'scatter',
    data: { datasets },
    plugins: [panelBorder],
    options: {
      responsive: false,
      animation: false,
      events: [],
      layout: { padding: { right: 8 } },
      plugins: {
        legend: { display: false },
        tooltip: { enabled: false },
        title: {
          display: true, text: title, align: 'start', fullSize: false, color: '#000',
          font: { size: 28, weight: 'normal' }, padding: { top: 3, bottom: 10.4 }
        }
      },
      scales: {
        x: {
          type: 'linear', min: -0.05, max: 1.05,
          afterFit: s => { s.height = 67; s.paddingLeft = 0; s.paddingRight = 0; },
          ticks: {
            stepSize: 0.125, includeBounds: false, autoSkip: false, maxRotation: 0, minRotation: 0,
            padding: 3, color: LABEL_COL, font: { size: 16 },
            callback: v => isMajorX(v) ? v.toFixed(2) : ''
          },
          grid: {
            color: GRID_COL, lineWidth: 1, tickLength: 5,
            tickColor: c => isMajorX(c.tick.value) ? TICK_COL : 'rgba(0,0,0,0)'
          },
          border: { display: false },
          title: { display: true, text: xTitle, color: '#000', font: { size: 23 }, padding: { top: 0, bottom: 9 } }
        },
        y: {
          type: 'linear', min: Y_MIN, max: Y_MAX,
          afterFit: s => { s.width = 66; s.paddingTop = 0; s.paddingBottom = 0; },
          ticks: {
            stepSize: 2, includeBounds: false, autoSkip: false,
            padding: 5, color: LABEL_COL, font: { size: 16 },
            callback: v => isMajorY(v) ? String(v) : ''
          },
          grid: {
            color: GRID_COL, lineWidth: 1, tickLength: 6,
            tickColor: c => isMajorY(c.tick.value) ? TICK_COL : 'rgba(0,0,0,0)'
          },
          border: { display: false },
          title: { display: true, text: 'Partial effect', color: '#000', font: { size: 23 }, padding: { top: 8, bottom: 0 } }
        }
      }
    }
  });
}

// ==================== MAIN ====================
makePanel('cAnthro', 's(Anthropophony)', 'Anthropophony', anthroPts.concat(anthroCore), anthroFit, anthroLo, anthroHi, anthroRugBands, anthroRug);
makePanel('cBio', 's(Biophony)', 'Biophony', bioPts.concat(bioCore), bioFit, bioLo, bioHi, bioRugBands, bioRug);
makePanel('cGeo', 's(Geophony)', 'Geophony', geoPts.concat(geoCore), geoFit, geoLo, geoHi, geoRugBands, geoRug);
makePanel('cInterf', 's(Interference)', 'Interference', interfPts.concat(interfCore), interfFit, interfLo, interfHi, interfRugBands, interfRug);
makePanel('cQuiet', 's(Quiet)', 'Quiet', quietPts.concat(quietCore), quietFit, quietLo, quietHi, quietRugBands, quietRug);
</script>
</body>
</html>
